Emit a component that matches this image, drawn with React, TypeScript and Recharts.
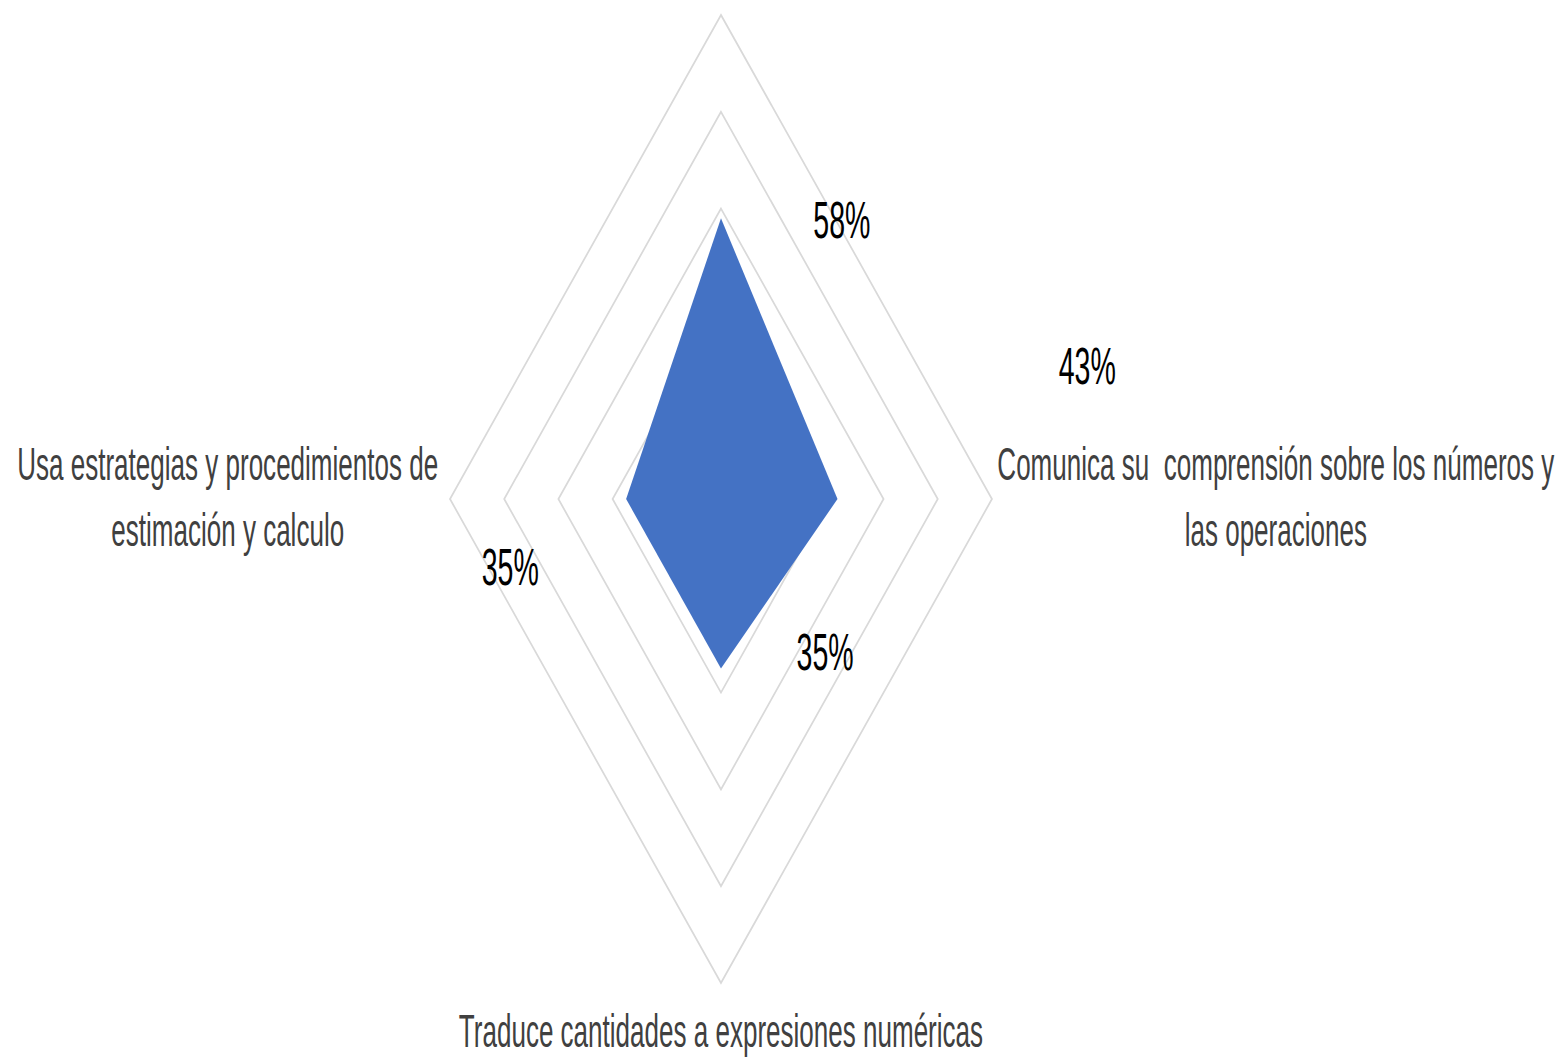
import React from 'react'
import { RadarChart, Radar, PolarGrid, PolarAngleAxis, PolarRadiusAxis } from 'recharts'

// Axes, clockwise from top (the top axis carries no visible title)
const categories = [
  '',
  'Comunica su\u00a0 comprensión sobre los números y\nlas operaciones',
  'Traduce cantidades a expresiones numéricas',
  'Usa estrategias y procedimientos de\nestimación y calculo',
]
const values = [58, 43, 35, 35]
const radiusTicks = [0, 20, 40, 60, 80, 100]

const data = categories.map((name, i) => ({ name, value: values[i] }))

// the picture is squeezed horizontally, so the whole chart is drawn wide and scaled down on x
const SX = 0.5599
const CX = 1273.4
const CY = 491
const R = 484

const FONT = '"Liberation Sans", Arial, sans-serif'

// offsets (chart units) of each axis title from its tick anchor
const tickOffsets = [
  { dx: 0, dy: 0 },
  { dx: 499, dy: -19 },
  { dx: 0, dy: 56 },
  { dx: -389, dy: -19 },
]

// offsets of each data label from its point
const labelOffsets = [
  { dx: 216, dy: 2 },
  { dx: 446, dy: -132 },
  { dx: 186, dy: -16 },
  { dx: -207, dy: 69 },
]

function AxisTick(props: any) {
  const { x, y, payload, index } = props
  const text: string = payload.value
  if (!text) return null
  const off = tickOffsets[index] || { dx: 0, dy: 0 }
  const lines = text.split('\n')
  return (
    <text x={x + off.dx} y={y + off.dy} textAnchor="middle" fill="#404040" fontSize={46.5} fontFamily={FONT}>
      {lines.map((line, i) => (
        <tspan key={i} x={x + off.dx} dy={i === 0 ? 0 : 66}>
          {line}
        </tspan>
      ))}
    </text>
  )
}

function DataLabel(props: any) {
  const { x, y, value, index } = props
  const off = labelOffsets[index] || { dx: 0, dy: 0 }
  return (
    <text
      x={x + off.dx}
      y={y + off.dy}
      textAnchor="middle"
      dominantBaseline="central"
      fill="#000000"
      fontSize={51}
      fontFamily={FONT}
    >
      {value}%
    </text>
  )
}

export default function App() {
  const width = 1549 / SX
  const height = 1050
  return (
    <div style={{ position: 'fixed', left: 8, top: 8, width: 1549, height: 1050, overflow: 'hidden', background: '#fff' }}>
      <div style={{ width, height, transform: `scaleX(${SX})`, transformOrigin: '0 0' }}>
        <RadarChart
          width={width}
          height={height}
          data={data}
          cx={CX}
          cy={CY}
          outerRadius={R}
          margin={{ top: 0, right: 0, bottom: 0, left: 0 }}
        >
          <PolarGrid gridType="polygon" radialLines={false} stroke="#d9d9d9" strokeWidth={2.5} />
          <PolarAngleAxis dataKey="name" tick={<AxisTick />} tickLine={false} axisLine={false} />
          <PolarRadiusAxis
            domain={[0, 100]}
            ticks={radiusTicks as any}
            tickCount={6}
            tick={false}
            axisLine={false}
          />
          <Radar
            dataKey="value"
            stroke="#4472c4"
            fill="#4472c4"
            fillOpacity={1}
            strokeWidth={0}
            isAnimationActive={false}
            label={<DataLabel />}
          />
        </RadarChart>
      </div>
    </div>
  )
}
